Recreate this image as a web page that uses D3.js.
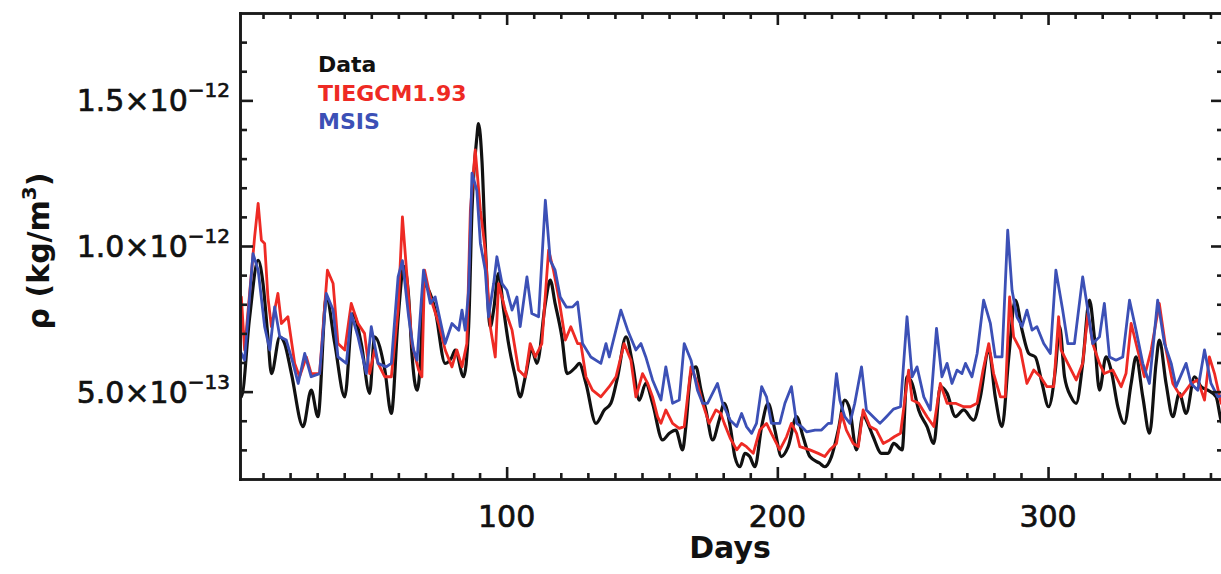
<!DOCTYPE html>
<html>
<head>
<meta charset="utf-8">
<script src="https://cdn.jsdelivr.net/npm/d3@7/dist/d3.min.js"></script>
<style>
  html, body { margin: 0; padding: 0; background: #fff; }
  svg { display: block; }
  .axis path, .axis line { stroke: #1a1a1a; stroke-width: 2.6; }
  .tick-label { font-family: "DejaVu Sans", sans-serif; font-size: 30px; fill: #111;
                stroke: #111; stroke-width: 0.7px; paint-order: stroke; }
</style>
</head>
<body>
<svg id="chart" width="1221" height="574"></svg>
<script>
// Thermospheric mass density over one year: satellite data vs. models.
// Each series is a list of [day of year, density in units of 1e-13 kg/m^3].
const UNIT = 1e-13;

const dataSeries = [
  [1.5,4.9],[2.0,4.82],[5.0,7.5],[8.2,9.51],[10.0,8.71],[11.8,6.88],[13.1,5.62],[16.2,6.88],[18.0,6.65],
  [20.5,5.62],[24.8,3.80],[27.8,5.05],[30.3,4.14],[33.4,8.25],[36.5,6.65],[40.2,4.82],[43.2,7.68],
  [46.3,6.65],[49.4,4.94],[51.2,6.88],[55.0,5.74],[57.4,4.25],[59.9,7.5],[62.0,9.3],[63.8,8.25],
  [65.0,6.31],[66.9,5.05],[68.1,5.97],[69.3,8.71],[71.2,8.48],[73.6,7.8],[77.3,5.97],[79.8,6.19],
  [81.0,6.43],[84.1,5.51],[85.96,7.23],[87.2,11.23],[89.0,13.74],[89.6,14.2],[90.9,12.9],[92.1,10.09],
  [93.96,7.23],[95.2,7.8],[97.0,9.06],[98.9,7.8],[100.7,6.65],[103.2,5.51],[105.0,4.82],[106.9,5.51],
  [109.3,6.43],[111.2,5.97],[114.3,8.03],[116.1,8.83],[117.9,8.03],[120.4,6.88],[122.3,5.62],
  [125.6,5.85],[126.8,5.97],[129.3,5.28],[133.0,3.91],[136.1,4.37],[138.5,4.6],[141.0,5.51],
  [144.1,6.88],[146.5,5.97],[149.0,4.71],[151.4,5.28],[153.9,4.6],[157.6,3.34],[160.1,3.57],
  [162.5,3.68],[165.0,3.0],[166.2,3.8],[168.1,5.62],[169.9,5.85],[171.8,5.05],[173.6,4.37],
  [176.1,3.34],[178.5,4.02],[180.4,4.6],[182.8,3.68],[184.3,2.77],[186.2,2.42],[188.0,2.88],
  [189.8,2.77],[191.7,2.42],[194.2,3.8],[196.6,4.6],[199.1,3.68],[201.5,2.77],[204.0,3.11],
  [207.1,4.14],[209.5,3.45],[212.0,2.77],[215.7,2.54],[217.5,2.42],[220.0,2.77],[222.5,3.68],
  [224.9,4.71],[226.8,4.37],[229.2,3.0],[231.7,4.2],[232.9,4.02],[235.4,3.45],[238.5,2.88],
  [240.9,2.88],[243.0,3.22],[246.1,3.0],[247.9,5.51],[249.8,5.28],[252.2,4.37],[255.3,3.8],
  [257.8,3.22],[260.2,5.17],[262.7,4.94],[265.8,4.14],[268.8,4.37],[272.5,4.02],[275.0,4.82],
  [278.1,6.43],[280.5,4.82],[283.0,3.8],[285.5,6.19],[287.9,8.14],[290.4,7.11],[292.9,6.31],
  [295.3,6.19],[297.8,5.28],[300.2,4.48],[302.7,5.74],[304.3,7.23],[306.1,5.51],[308.5,4.82],
  [310.4,4.6],[312.8,5.97],[315.3,8.14],[317.1,6.88],[319.0,5.05],[321.4,6.19],[323.3,5.74],
  [325.8,4.48],[328.2,3.91],[330.7,5.28],[332.5,6.19],[335.0,4.82],[337.5,3.57],[339.9,5.97],
  [341.1,6.77],[343.6,5.28],[346.1,4.14],[348.5,4.94],[351.0,4.25],[354.1,5.51],[356.5,5.17],
  [359.0,5.05],[362.1,4.82],[363.9,4.02],[365.5,3.8]
];

const tiegcmSeries = [
  [1.5,8.3],[2.0,8.25],[3.2,6.43],[6.9,10.31],[8.2,11.46],[9.4,10.2],[10.6,10.09],[11.8,8.25],
  [13.1,7.23],[15.5,8.37],[16.8,7.34],[19.2,7.57],[21.7,5.97],[23.5,5.51],[26.0,6.19],[27.8,5.62],
  [30.9,5.62],[33.8,9.17],[35.9,8.71],[37.7,6.65],[40.2,6.43],[42.6,8.03],[45.1,7.34],[47.5,7.0],
  [49.4,5.62],[51.2,6.43],[52.5,5.97],[55.0,5.51],[57.4,5.51],[59.9,7.8],[61.5,11.0],[63.2,8.94],
  [65.0,6.65],[67.5,5.74],[68.7,5.51],[69.7,9.17],[71.8,8.25],[74.9,7.34],[77.3,6.43],[79.8,5.85],
  [81.6,6.43],[83.5,5.85],[85.3,6.65],[86.6,11.23],[88.4,13.3],[90.3,11.23],[92.1,9.86],[93.96,7.23],
  [95.8,6.19],[97.0,8.71],[99.5,7.8],[102.0,7.11],[104.4,5.74],[106.9,5.51],[108.7,6.65],[110.6,6.19],
  [113.0,6.65],[115.5,9.86],[117.3,9.17],[119.2,8.25],[121.7,6.77],[123.7,7.23],[126.2,6.65],
  [127.4,6.65],[129.3,5.51],[131.7,5.05],[134.8,4.82],[137.9,5.17],[140.4,5.51],[143.4,6.65],
  [145.9,6.08],[147.75,4.82],[150.2,5.62],[152.1,5.28],[153.9,4.82],[155.75,4.14],[157.0,3.91],
  [158.8,4.37],[161.3,3.91],[163.75,3.74],[165.6,3.8],[168.1,5.85],[170.5,5.28],[172.4,4.6],
  [174.8,3.91],[177.3,4.37],[179.1,4.25],[180.4,3.91],[182.6,3.4],[185.0,3.0],[186.8,3.22],
  [188.6,3.11],[191.1,2.88],[193.5,3.68],[196.0,3.91],[197.8,3.57],[200.9,3.0],[203.4,3.45],
  [205.2,3.91],[207.1,3.57],[208.3,3.11],[212.0,3.0],[215.1,2.88],[217.5,2.77],[219.4,3.0],
  [221.85,3.22],[223.7,4.25],[225.5,3.68],[228.0,3.22],[229.9,3.11],[231.7,4.37],[234.2,3.8],
  [236.6,3.68],[239.1,3.22],[241.5,3.34],[243.2,3.45],[245.5,3.57],[248.5,5.74],[249.8,4.71],
  [252.2,4.6],[255.3,4.14],[257.8,3.8],[260.2,5.28],[262.7,4.6],[265.8,4.6],[268.8,4.48],
  [271.3,4.48],[273.8,4.6],[276.0,5.74],[278.1,6.65],[279.9,5.62],[282.4,4.82],[284.2,4.82],
  [285.8,8.25],[287.3,6.88],[289.8,6.43],[292.2,5.28],[294.7,5.74],[297.2,5.51],[299.6,5.17],
  [302.1,5.17],[303.9,7.57],[304.8,6.43],[307.3,5.97],[310.4,5.40],[312.8,5.97],[314.7,7.68],
  [316.5,6.65],[319.0,5.97],[320.8,5.62],[323.9,5.74],[327.0,5.17],[328.8,5.62],[330.7,7.34],
  [333.1,6.43],[335.6,5.51],[338.1,6.43],[341.1,8.03],[343.6,6.43],[346.1,5.28],[349.1,4.82],
  [351.0,5.05],[352.8,5.28],[355.3,5.40],[357.8,4.71],[359.6,6.19],[361.5,5.62],[363.9,4.6],
  [365.5,5.0]
];

const msisSeries = [
  [1.5,6.4],[2.0,6.31],[3.2,6.08],[6.3,9.74],[8.2,9.17],[10.6,7.23],[12.5,6.43],[14.3,7.91],
  [16.2,6.88],[18.6,6.77],[21.1,5.97],[23.0,5.28],[25.4,6.31],[27.8,5.51],[30.9,5.62],[33.4,8.37],
  [35.9,7.8],[37.7,6.19],[40.8,5.97],[42.6,7.68],[45.1,6.88],[48.2,5.62],[50.0,7.23],[52.5,5.97],
  [55.5,5.85],[57.4,5.97],[59.9,8.94],[61.5,9.5],[63.8,7.57],[65.6,6.43],[66.9,6.08],[69.3,9.17],
  [71.8,8.03],[73.6,8.25],[77.3,6.65],[79.8,7.34],[82.3,7.11],[83.5,7.8],[84.7,7.11],[85.96,8.48],
  [87.2,12.5],[89.0,11.9],[90.3,10.09],[92.1,9.17],[93.3,7.57],[95.2,8.71],[96.4,9.63],[98.3,8.71],
  [100.1,8.48],[102.0,7.8],[103.8,8.25],[105.0,7.23],[107.5,8.94],[109.3,7.68],[111.8,7.57],
  [114.3,11.57],[116.1,9.51],[117.9,9.17],[119.8,8.25],[122.1,7.9],[124.4,7.91],[126.2,8.08],
  [128.05,6.65],[131.1,6.19],[134.8,5.97],[136.7,6.65],[137.9,6.19],[142.2,7.8],[144.7,7.11],
  [147.75,6.43],[149.6,6.65],[151.4,6.19],[153.9,5.40],[157.0,4.71],[158.8,5.85],[161.3,4.6],
  [163.75,4.71],[165.6,6.65],[168.1,6.08],[170.5,5.05],[172.4,4.6],[174.2,4.6],[177.9,5.28],
  [179.75,4.6],[182.6,4.02],[185.0,3.8],[186.8,4.25],[188.6,3.8],[190.5,3.57],[192.3,3.91],
  [194.2,5.17],[196.0,4.82],[197.8,3.91],[200.9,3.91],[202.8,4.6],[205.2,5.17],[207.1,3.91],
  [208.9,3.8],[210.8,3.62],[213.9,3.68],[216.3,3.68],[218.8,3.91],[220.0,3.91],[221.85,5.62],
  [223.1,4.71],[224.9,4.14],[226.8,3.91],[228.6,4.6],[231.1,5.85],[232.9,4.37],[235.4,4.14],
  [237.9,3.91],[240.3,4.14],[242.9,4.4],[245.5,4.48],[247.9,7.57],[249.8,5.51],[251.6,5.85],
  [254.1,4.82],[256.5,4.37],[258.8,7.17],[260.8,5.51],[262.7,5.97],[264.5,5.28],[266.4,5.74],
  [268.2,5.62],[269.5,5.97],[271.9,5.51],[273.8,6.31],[276.2,8.14],[278.7,7.34],[280.5,6.19],
  [283.0,6.19],[285.1,10.54],[286.7,8.48],[288.5,7.57],[290.4,7.23],[292.2,7.8],[294.1,7.11],
  [295.9,7.23],[298.4,6.65],[300.85,6.31],[302.9,9.17],[305.4,7.8],[307.3,6.65],[309.75,6.65],
  [312.8,8.94],[314.7,7.8],[316.5,6.65],[319.0,6.88],[320.8,8.03],[322.7,6.19],[325.1,6.08],
  [327.6,6.19],[330.1,8.14],[332.5,7.11],[335.0,5.97],[337.45,5.28],[340.5,8.14],[343.0,6.65],
  [345.5,5.97],[347.3,5.17],[351.0,5.97],[352.8,5.28],[355.3,5.05],[357.8,6.43],[360.2,5.28],
  [362.7,4.82],[365.5,4.9]
];

const seriesNames = ["Data", "TIEGCM1.93", "MSIS"];
const seriesColors = ["#111111", "#ee2a24", "#3c50b6"];

const xMajorTicks = [100, 200, 300];
const yMajorTicks = [5e-13, 1e-12, 1.5e-12];

// ---- layout ----
const svg = d3.select("#chart");
const plot = { left: 240, right: 1224, top: 13, bottom: 479 };

const x = d3.scaleLinear().domain([1.5, 365]).range([plot.left, plot.right]);
const y = d3.scaleLinear().domain([2e-13, 1.8e-12]).range([plot.bottom, plot.top]);

const xMinorTicks = d3.range(10, 365, 10).filter(d => !xMajorTicks.includes(d));
const yMinorTicks = d3.range(3, 18).map(i => i * UNIT).filter(v => !yMajorTicks.some(m => Math.abs(m - v) < 1e-16));

// clip lines to the plotting box
svg.append("defs").append("clipPath").attr("id", "plot-clip")
  .append("rect")
  .attr("x", plot.left).attr("y", plot.top)
  .attr("width", plot.right - plot.left).attr("height", plot.bottom - plot.top);

// ---- lines: observations are smoother, model curves more jagged ----
const curves = [d3.curveMonotoneX, d3.curveLinear, d3.curveLinear];
const widths = [3.2, 2.8, 2.8];

const lineGroup = svg.append("g").attr("clip-path", "url(#plot-clip)");
[dataSeries, tiegcmSeries, msisSeries].forEach((s, i) => {
  const line = d3.line()
    .curve(curves[i])
    .x(d => x(d[0]))
    .y(d => y(d[1] * UNIT));
  lineGroup.append("path")
    .datum(s)
    .attr("fill", "none")
    .attr("stroke", seriesColors[i])
    .attr("stroke-width", widths[i])
    .attr("stroke-linejoin", "round")
    .attr("d", line);
});

// ---- axes (ticks point inward on all four sides) ----
function drawAxis(axisFn, scale, ticks, size, transform) {
  svg.append("g")
    .attr("class", "axis")
    .attr("transform", transform)
    .call(axisFn(scale).tickValues(ticks).tickSizeInner(-size).tickSizeOuter(0).tickFormat(""));
}
drawAxis(d3.axisBottom, x, xMinorTicks, 6, `translate(0,${plot.bottom})`);
drawAxis(d3.axisBottom, x, xMajorTicks, 12, `translate(0,${plot.bottom})`);
drawAxis(d3.axisTop, x, xMinorTicks, 6, `translate(0,${plot.top})`);
drawAxis(d3.axisTop, x, xMajorTicks, 12, `translate(0,${plot.top})`);
drawAxis(d3.axisLeft, y, yMinorTicks, 7, `translate(${plot.left},0)`);
drawAxis(d3.axisLeft, y, yMajorTicks, 13, `translate(${plot.left},0)`);
drawAxis(d3.axisRight, y, yMinorTicks, 7, `translate(${plot.right},0)`);
drawAxis(d3.axisRight, y, yMajorTicks, 13, `translate(${plot.right},0)`);
svg.selectAll(".axis .domain").attr("stroke-linecap", "square");

// ---- tick labels ----
svg.append("g").selectAll("text")
  .data(xMajorTicks)
  .join("text")
  .attr("class", "tick-label")
  .attr("x", d => x(d))
  .attr("y", 527)
  .attr("text-anchor", "middle")
  .text(d => d);

const yLabels = svg.append("g").selectAll("text")
  .data(yMajorTicks)
  .join("text")
  .attr("class", "tick-label")
  .attr("x", 230)
  .attr("y", d => y(d) + 11)
  .attr("text-anchor", "end");
yLabels.each(function (d) {
  const [mant, exp] = d.toExponential(1).split("e");
  const t = d3.select(this);
  t.append("tspan").text(mant + "\u00d710");
  t.append("tspan").attr("dy", -14).attr("font-size", 20)
    .text("\u2212" + String(Math.abs(+exp)));
});

// ---- axis titles ----
svg.append("text")
  .attr("class", "tick-label")
  .attr("x", plot.left + (plot.right - plot.left) / 2 - 2)
  .attr("y", 558)
  .attr("text-anchor", "middle")
  .attr("font-weight", "bold")
  .attr("font-size", 27)
  .style("stroke-width", "0px")
  .text("Days");

const yTitle = svg.append("text")
  .attr("class", "tick-label")
  .attr("transform", "translate(49,251) rotate(-90)")
  .attr("text-anchor", "middle")
  .attr("font-weight", "bold")
  .attr("font-size", 32)
  .style("stroke-width", "0px");
yTitle.append("tspan").text("\u03c1 (kg/m");
yTitle.append("tspan").attr("dy", -13).attr("font-size", 20).text("3");
yTitle.append("tspan").attr("dy", 13).text(")");

// ---- legend ----
svg.append("g").selectAll("text")
  .data(seriesNames)
  .join("text")
  .attr("x", 318)
  .attr("y", (d, i) => 72 + i * 28.5)
  .attr("font-family", "DejaVu Sans, sans-serif")
  .attr("font-weight", "bold")
  .attr("font-size", 22)
  .attr("fill", (d, i) => seriesColors[i])
  .text(d => d);
</script>
</body>
</html>
